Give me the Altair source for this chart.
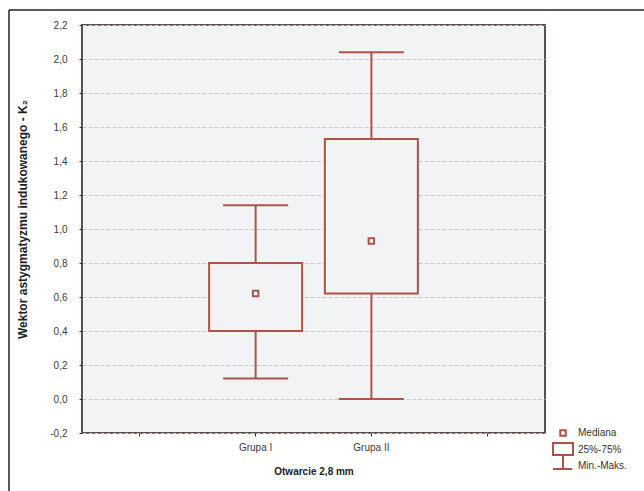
import altair as alt
import pandas as pd

# ---- data ----
groups = ["Grupa I", "Grupa II"]
mins = [0.12, 0.00]
q1s = [0.40, 0.62]
medians = [0.62, 0.93]
q3s = [0.80, 1.53]
maxs = [1.14, 2.04]

y_ticks = [-0.2, 0.0, 0.2, 0.4, 0.6, 0.8, 1.0, 1.2, 1.4, 1.6, 1.8, 2.0, 2.2]
x_domain = [" ", "Grupa I", "Grupa II", "  "]

df = pd.DataFrame({"grupa": groups, "mn": mins, "q1": q1s, "med": medians,
                   "q3": q3s, "mx": maxs})

RED = "#ad5447"
BG = "#f1f3f5"
FONT = "Liberation Sans"

x_enc = alt.X("grupa:N",
              scale=alt.Scale(domain=x_domain, paddingInner=0, paddingOuter=0),
              axis=alt.Axis(title="Otwarcie 2,8 mm", labelAngle=0, tickSize=3,
                            labelPadding=6, labelFontSize=10, labelColor="#3a3a3a",
                            labelFont=FONT, titleFont=FONT, titleFontSize=10,
                            titleFontWeight="bold", titleColor="#222",
                            titleBaseline="middle", titleY=38,
                            domain=False, tickColor="#333", grid=False))

y_scale = alt.Scale(domain=[-0.2, 2.2], nice=False, zero=False)
y_axis = alt.Axis(values=y_ticks, title="Wektor astygmatyzmu indukowanego - K₂",
                  labelExpr="replace(replace(format(datum.value, '.1f'), '.', ','), '\u2212', '-')",
                  labelOverlap=False, labelFlush=False, tickCount=13,
                  tickSize=3, labelPadding=12, labelFontSize=10, labelColor="#3a3a3a",
                  labelFont=FONT, titleFont=FONT, titleFontSize=12,
                  titleFontWeight="bold", titleColor="#222",
                  titleBaseline="middle", titleX=-60, titleY=194,
                  domain=False, tickColor="#333",
                  grid=True, gridColor="#c8c8c8", gridDash=[4, 2], gridWidth=1)


def Y(field):
    return alt.Y(field, type="quantitative", scale=y_scale, axis=y_axis)


base = alt.Chart(df)

whisker = base.mark_rule(color=RED, strokeWidth=2, opacity=1).encode(
    x=x_enc, y=Y("mn"), y2="mx:Q")

caps_top = base.mark_tick(color=RED, size=65, thickness=2, orient="horizontal",
                          opacity=1).encode(x=x_enc, y=Y("mx"))
caps_bot = base.mark_tick(color=RED, size=65, thickness=2, orient="horizontal",
                          opacity=1).encode(x=x_enc, y=Y("mn"))

box = base.mark_bar(size=93, fill=BG, stroke=RED, strokeWidth=2, opacity=1).encode(
    x=x_enc, y=Y("q1"), y2="q3:Q")

median = base.mark_square(size=30, filled=True, fill="#fbfbfb", stroke=RED,
                          strokeWidth=2, opacity=1).encode(x=x_enc, y=Y("med"))

# ---- manual legend (decoration) ----
one = alt.Data(values=[{"k": 0}])
leg_sq = alt.Chart(one).mark_square(size=30, filled=True, fill="#fbfbfb",
                                    stroke=RED, strokeWidth=2, opacity=1).encode(
    x=alt.value(481), y=alt.value(408))
leg_box = alt.Chart(one).mark_rect(fill="white", stroke=RED, strokeWidth=2).encode(
    x=alt.value(471), x2=alt.value(491), y=alt.value(418), y2=alt.value(430))
leg_wh = alt.Chart(one).mark_rule(color=RED, strokeWidth=2).encode(
    x=alt.value(481), y=alt.value(430), y2=alt.value(444))
leg_cap = alt.Chart(one).mark_rule(color=RED, strokeWidth=2).encode(
    x=alt.value(471), x2=alt.value(490), y=alt.value(444))
leg_txt = alt.Chart(alt.Data(values=[
    {"t": "Mediana", "yy": 408},
    {"t": "25%-75%", "yy": 425},
    {"t": "Min.-Maks.", "yy": 441},
])).mark_text(align="left", baseline="middle", fontSize=10, font=FONT,
              color="#333").encode(
    x=alt.value(496), y=alt.Y("yy:Q", scale=None), text="t:N")

# ---- outer frame (decoration) ----
frame_l = alt.Chart(one).mark_rule(color="#222", strokeWidth=1.5).encode(
    x=alt.value(-73), y=alt.value(-15), y2=alt.value(480))
frame_t = alt.Chart(one).mark_rule(color="#222", strokeWidth=1.5).encode(
    x=alt.value(-73), x2=alt.value(570), y=alt.value(-15))

chart = alt.layer(whisker, caps_top, caps_bot, box, median,
                  leg_sq, leg_box, leg_wh, leg_cap, leg_txt,
                  frame_l, frame_t).properties(
    width=463, height=408,
    autosize=alt.AutoSizeParams(type="none"),
    padding={"left": 82, "top": 25, "right": 99, "bottom": 58},
    background="white",
).configure_view(fill=BG, stroke="#5b4e4c", strokeWidth=2)

chart.save("out.html", embed_options={"renderer": "svg", "actions": False})
